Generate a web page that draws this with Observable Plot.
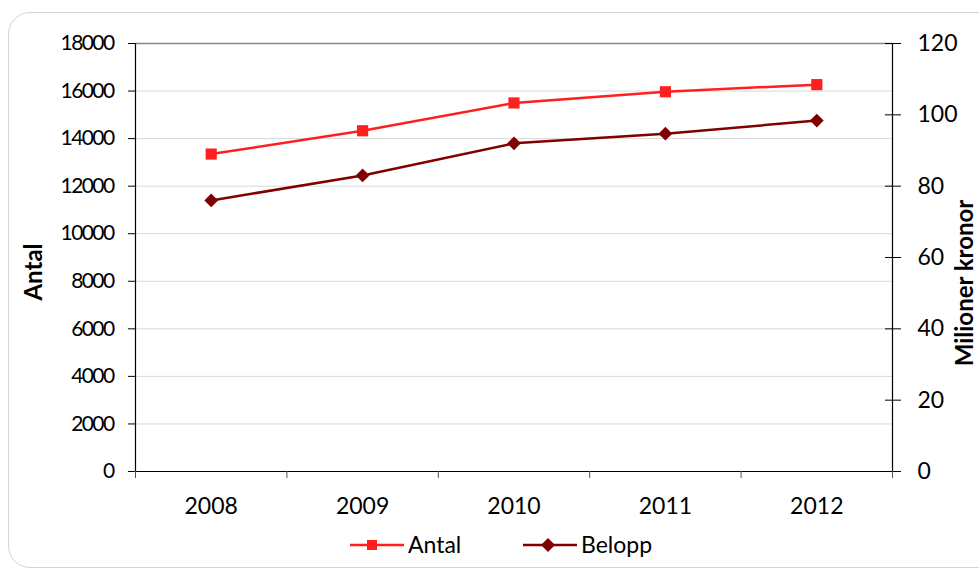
<!DOCTYPE html>
<html>
<head>
<meta charset="utf-8">
<script src="https://cdn.jsdelivr.net/npm/d3@7"></script>
<script src="https://cdn.jsdelivr.net/npm/@observablehq/plot@0.6"></script>
<style>
  html, body { margin: 0; padding: 0; background: #fff; }
  #wrap { position: relative; width: 979px; height: 572px; overflow: hidden; font-family: Lato, sans-serif; }
  #border { position: absolute; left: 8px; top: 12px; width: 1000px; height: 556px; border: 1px solid #d4d4d4; border-radius: 22px; box-sizing: border-box; }
  #chart { position: absolute; left: 0; top: 0; }
  .ytitle { position: absolute; font-weight: bold; font-size: 24px; line-height: 24px; white-space: nowrap; color: #000; transform: translate(-50%, -50%) rotate(-90deg); }
  .leg { position: absolute; font-size: 23px; color: #000; white-space: nowrap; }
</style>
</head>
<body>
<div id="wrap">
  <div id="border"></div>
  <div id="chart"></div>
  <div class="ytitle" style="left:33px; top:272px;">Antal</div>
  <div class="ytitle" style="left:964px; top:283px;">Milioner kronor</div>
  <svg class="leg" style="left:350px; top:535px;" width="54" height="20">
    <line x1="0" x2="54" y1="10" y2="10" stroke="#ff1f1f" stroke-width="2.5"></line>
    <rect x="17" y="5" width="10" height="10" fill="#ff1f1f"></rect>
  </svg>
  <div class="leg" style="left:408px; top:530px;">Antal</div>
  <svg class="leg" style="left:523px; top:535px;" width="54" height="20">
    <line x1="0" x2="54" y1="10" y2="10" stroke="#800000" stroke-width="2.5"></line>
    <path d="M25,3 L32,10 L25,17 L18,10 Z" fill="#800000"></path>
  </svg>
  <div class="leg" style="left:581px; top:530px;">Belopp</div>
</div>
<script>
const years = [2008, 2009, 2010, 2011, 2012];
const antal = [13350, 14330, 15500, 15970, 16270];
const belopp = [76, 83, 92, 94.7, 98.4];
const leftTicks = [0, 2000, 4000, 6000, 8000, 10000, 12000, 14000, 16000, 18000];
const rightTicks = [0, 20, 40, 60, 80, 100, 120];

const leftMax = leftTicks[leftTicks.length - 1];
const rightMax = rightTicks[rightTicks.length - 1];
const k = leftMax / rightMax;

const data = years.map((y, i) => ({year: y, antal: antal[i], belopp: belopp[i]}));
const x0 = years[0] - 0.5, x1 = years[years.length - 1] + 0.5;
const bounds = years.map(y => y - 0.5).concat([x1]);

const chart = Plot.plot({
  width: 979,
  height: 510,
  marginLeft: 135,
  marginRight: 87,
  marginTop: 43,
  marginBottom: 39,
  style: {fontFamily: "Lato, sans-serif", fontSize: "23px", background: "transparent", overflow: "visible", color: "#000"},
  x: {domain: [x0, x1], axis: null},
  y: {domain: [0, leftMax], axis: null},
  marks: [
    Plot.gridY(leftTicks, {stroke: "#d9d9d9", strokeOpacity: 1, strokeWidth: 1}),
    Plot.ruleY([leftMax], {stroke: "#868686", strokeWidth: 1.5}),
    Plot.ruleX([x0], {stroke: "#000", strokeWidth: 1.2}),
    Plot.ruleX([x1], {stroke: "#000", strokeWidth: 1.2}),
    Plot.ruleY([0], {stroke: "#000", strokeWidth: 1.2}),
    Plot.axisY(leftTicks, {anchor: "left", label: null, tickSize: 7, tickPadding: 15, tickFormat: d => String(d), fontSize: 21, stroke: "#000"}),
    Plot.axisY(rightTicks.map(v => v * k), {anchor: "right", label: null, tickSize: 16, dx: -8, tickPadding: 17, tickFormat: d => String(Math.round(d / k)), fontSize: 23, stroke: "#000"}),
    Plot.axisX(bounds, {anchor: "bottom", label: null, tickSize: 7, tickFormat: () => "", stroke: "#555"}),
    Plot.axisX(years, {anchor: "bottom", label: null, tickSize: 0, tickPadding: 26, tickFormat: d => String(d), fontSize: 23}),
    Plot.line(data, {x: "year", y: "antal", stroke: "#ff1f1f", strokeWidth: 2.5}),
    Plot.dot(data, {x: "year", y: "antal", symbol: "square", fill: "#ff1f1f", r: 6.3}),
    Plot.line(data, {x: "year", y: d => d.belopp * k, stroke: "#800000", strokeWidth: 2.5}),
    Plot.dot(data, {x: "year", y: d => d.belopp * k, symbol: "diamond2", fill: "#800000", r: 6.2})
  ]
});
document.getElementById("chart").appendChild(chart);
// condense the left tick labels like the reference
chart.querySelectorAll("g").forEach(g => {
  const texts = g.querySelectorAll(":scope > text");
  if (texts.length && Array.from(texts).some(t => t.textContent === String(leftMax))) {
    texts.forEach(t => t.style.letterSpacing = "-1.6px");
  }
});
</script>
</body>
</html>
